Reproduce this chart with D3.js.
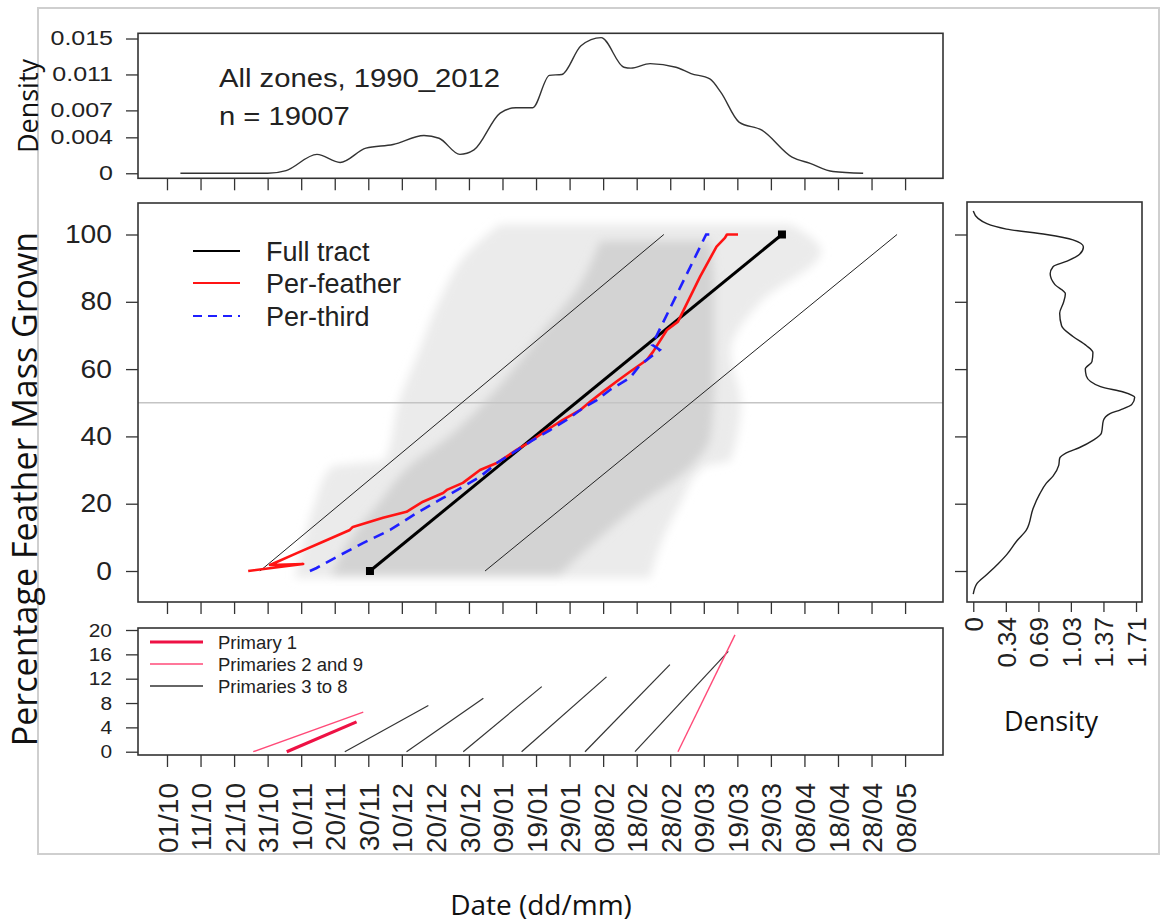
<!DOCTYPE html>
<html>
<head>
<meta charset="utf-8">
<title>Percentage feather mass grown</title>
<script src="https://cdn.jsdelivr.net/npm/d3@7"></script>
<style>
	body { margin: 0; background: #fff; }
	svg { display: block; background: #fff; }
	.axis line { stroke: #333; stroke-width: 1.3; }
	.box { fill: none; stroke: #333; stroke-width: 1.6; }
	.tick-label { font-family: "Liberation Sans", Arial, sans-serif; fill: #222; }
	.title { font-family: "Open Sans", "Noto Sans", sans-serif; fill: #111; }
</style>
</head>
<body>
<div id="fig-moult"><svg width="1161" height="924"></svg></div>
<script>

// ---------------- values ----------------

// x axis: days since 01/10, one tick every 10 days
const tick_days = [0, 10, 20, 30, 40, 50, 60, 70, 80, 90, 100, 110, 120, 130, 140, 150, 160, 170, 180, 190, 200, 210, 220];
const tick_dates = ["01/10", "11/10", "21/10", "31/10", "10/11", "20/11", "30/11", "10/12", "20/12", "30/12",
	"09/01", "19/01", "29/01", "08/02", "18/02", "28/02", "09/03", "19/03", "29/03", "08/04", "18/04", "28/04", "08/05"];

// top panel: density of sampling dates
const timing_ticks = [0, 0.004, 0.007, 0.011, 0.015];
const timing_tick_labels = ["0", "0.004", "0.007", "0.011", "0.015"];
const timing_days = [4, 30, 35.5, 44.7, 51.6, 59.3, 67.4, 76.6, 81.1, 87.3, 91.5, 99.3, 104, 109, 114, 117.7,
	123.4, 129.4, 136.2, 138.3, 144, 151.7, 156.2, 161.8, 165.1, 170.5, 177.3, 186.3, 191.7, 198.5, 207.5];
const timing_density = [0, 0, 0.0003, 0.0021, 0.0012, 0.0028, 0.0032, 0.0042, 0.0039, 0.0021, 0.0026, 0.0067,
	0.0073, 0.0073, 0.0109, 0.011, 0.0142, 0.0151, 0.0118, 0.0117, 0.0122, 0.0118, 0.0111, 0.0105, 0.009,
	0.0057, 0.0048, 0.0018, 0.0011, 0.0002, 0];

// main panel
const mass_ticks = [0, 20, 40, 60, 80, 100];

// grey cloud of the 19007 scored birds, as horizontal bands (pct -> first/last day)
const cloud_pct = [-2, 10, 20, 31, 33, 50, 65, 80, 95, 103];
const cloud_first_day = [38, 41, 44, 49, 65, 69, 75, 81, 90, 99];
const cloud_last_day = [144, 148, 153, 160, 168, 171, 168, 177, 195, 186];
const core_pct = [-1, 10, 20, 31, 40, 55, 70, 85, 98];
const core_first_day = [49, 55, 63, 72, 84, 99, 111, 123, 129];
const core_last_day = [117, 129, 141, 156, 162, 163, 163, 163, 162];

const full_tract_days = [60.5, 183.3];
const full_tract_pct = [0, 100];
const envelope_early_days = [27.7, 148.1];
const envelope_late_days = [94.8, 217.6];
const envelope_pct = [0, 100];

const per_feather_days = [24.2, 40.6, 30.7, 38.7, 46.5, 54.5, 55.4, 64.4, 71.4, 76.3, 82.3, 83.4, 88.2, 93.3,
	98.3, 104.2, 108.2, 113.2, 118, 123.1, 126.1, 130, 134, 138, 143, 144.9, 149, 152.3, 158.9, 163.8, 166.3,
	166.9, 170.2];
const per_feather_pct = [0, 2.1, 1.8, 5.3, 8.7, 12.2, 13.1, 15.8, 17.6, 20.6, 23.2, 24.1, 26.2, 30, 32.1, 36,
	38.4, 41.9, 44.9, 47.8, 50.3, 53.3, 56.3, 59.2, 62.7, 65.2, 71.6, 74.1, 87.5, 96.4, 99, 100, 100];

const per_third_days = [42.6, 44.6, 50.6, 58.4, 66.5, 74.4, 82.3, 88.2, 93.3, 98.3, 103.1, 108.2, 114.2, 119.1,
	124, 128.1, 132, 138, 141, 146.9, 144.6, 160.7, 163.1];
const per_third_pct = [0, 0.9, 4.2, 8.3, 12.2, 17.2, 21.7, 25, 28, 32.1, 35.1, 38.4, 41.9, 44.9, 48.4, 50.8,
	53.8, 57.4, 61.2, 65.7, 67.2, 100, 100];

const method_names = ["Full tract", "Per-feather", "Per-third"];

// right panel: density of percentage grown
const grown_pct = [107, 104.8, 101.6, 100, 98.4, 96.3, 94.1, 92, 90.4, 88.3, 85.1, 82.4, 79.8, 76.6, 72.9, 69.7,
	67, 64.9, 62.2, 60.1, 58, 54.8, 53.2, 51.6, 49.5, 47.9, 46.8, 44.7, 41, 38.8, 36.7, 35.1, 33.5, 31.4, 28.2,
	26.1, 22.9, 18.6, 12.2, 9, 4.8, 2.1, -1.1, -3.7, -6.9];
const grown_density = [0, 0.05, 0.35, 0.77, 1.05, 1.16, 1.12, 0.98, 0.84, 0.81, 0.86, 0.97, 0.95, 0.91, 0.93,
	1.05, 1.19, 1.26, 1.25, 1.18, 1.19, 1.34, 1.58, 1.70, 1.67, 1.55, 1.44, 1.37, 1.35, 1.26, 1.12, 0.98, 0.91,
	0.90, 0.84, 0.77, 0.70, 0.63, 0.56, 0.46, 0.35, 0.26, 0.14, 0.04, 0];
const grown_ticks = [0, 0.343, 0.686, 1.028, 1.371, 1.714];
const grown_tick_labels = ["0", "0.34", "0.69", "1.03", "1.37", "1.71"];

// bottom panel: growth of single primaries (mass, % of tract)
const feather_group = ["Primaries 2 and 9", "Primary 1", "Primaries 3 to 8", "Primaries 3 to 8", "Primaries 3 to 8",
	"Primaries 3 to 8", "Primaries 3 to 8", "Primaries 3 to 8", "Primaries 2 and 9"];
const feather_start_day = [25.7, 35.7, 53, 71.4, 88.3, 105.7, 124.6, 139.5, 152.3];
const feather_end_day = [58.5, 56.5, 77.9, 94.3, 111.7, 131, 149.9, 167.3, 169.3];
const feather_end_mass = [6.5, 4.9, 7.6, 8.8, 10.7, 12.3, 14.3, 16.5, 19.2];
const feather_ticks = [0, 4, 8, 12, 16, 20];
const feather_groups = ["Primary 1", "Primaries 2 and 9", "Primaries 3 to 8"];

// ------------------------------------------------------------

function whenDocumentLoaded(action) {
	if (document.readyState === "loading") {
		document.addEventListener("DOMContentLoaded", action);
	} else {
		action();
	}
}

// the original figure was exported a little wider than tall, so the
// horizontal text looks stretched. scale around the text's own anchor
function widen(selection, sx) {
	selection.each(function() {
		const t = d3.select(this);
		const x = +t.attr("x") || 0;
		t.attr("x", x / sx).attr("transform", "scale(" + sx + ",1)");
	});
}

class MoultFigure {

	constructor(figure_element_id) {
		this.svg = d3.select('#' + figure_element_id + ' svg');
		this.defs = this.svg.append('defs');

		// shared date scale (days since 01/10)
		this.x = d3.scaleLinear().domain([-8.64, 231.3]).range([138, 943]);
		// percentage grown, used by the main panel and the side density
		this.y_mass = d3.scaleLinear().domain([-9.21, 109.36]).range([602, 203]);

		this.drawFrame();
		this.drawTimingPanel();
		this.drawMainPanel();
		this.drawFeatherPanel();
		this.drawGrownDensityPanel();
		this.drawTitles();
	}

	drawFrame() {
		this.svg.append("rect")
			.attr("x", 38).attr("y", 8)
			.attr("width", 1121).attr("height", 846)
			.attr("fill", "none")
			.attr("stroke", "#cfcfcf")
			.attr("stroke-width", 2);
	}

	box(x0, y0, x1, y1) {
		this.svg.append("rect")
			.attr("class", "box")
			.attr("x", x0).attr("y", y0)
			.attr("width", x1 - x0).attr("height", y1 - y0);
	}

	// ticks under a panel, labels only for the lowest one
	dateTicks(y, with_labels) {
		const axis = d3.axisBottom(this.x)
			.tickValues(tick_days)
			.tickSize(12)
			.tickFormat(d => with_labels ? tick_dates[tick_days.indexOf(d)] : "");
		const g = this.svg.append("g")
			.attr("class", "axis")
			.attr("transform", "translate(0," + y + ")")
			.call(axis);
		g.select(".domain").remove();
		if (with_labels) {
			g.selectAll("text")
				.attr("class", "tick-label")
				.attr("font-size", 28)
				.attr("fill", "#222")
				.attr("transform", "rotate(-90)")
				.attr("text-anchor", "end")
				.attr("x", -28)
				.attr("y", 0)
				.attr("dy", "0.36em");
		}
	}

	leftTicks(scale, values, labels, x, size, pad, font_size, sx) {
		const axis = d3.axisLeft(scale)
			.tickValues(values)
			.tickSize(size)
			.tickPadding(pad)
			.tickFormat(d => labels ? labels[values.indexOf(d)] : "");
		const g = this.svg.append("g")
			.attr("class", "axis")
			.attr("transform", "translate(" + x + ",0)")
			.call(axis);
		g.select(".domain").remove();
		g.selectAll("text")
			.attr("class", "tick-label")
			.attr("font-size", font_size)
			.attr("fill", "#222");
		if (sx) widen(g.selectAll("text"), sx);
		return g;
	}

	drawTimingPanel() {
		const y = d3.scaleLinear().domain([-0.00056, 0.01558]).range([178.3, 33.3]);

		const line = d3.line()
			.x((d, i) => this.x(timing_days[i]))
			.y(d => y(d))
			.curve(d3.curveMonotoneX);

		this.svg.append("path")
			.attr("d", line(timing_density))
			.attr("fill", "none")
			.attr("stroke", "#333")
			.attr("stroke-width", 1.4);

		this.leftTicks(y, timing_ticks, timing_tick_labels, 138, 12, 13, 20, 1.25);
		this.dateTicks(178.3, false);
		this.box(138, 33.3, 943, 178.3);

		const note = this.svg.append("g").attr("class", "tick-label").attr("font-size", 25).attr("fill", "#111");
		note.append("text").attr("x", 219).attr("y", 87).text("All zones, 1990_2012");
		note.append("text").attr("x", 219).attr("y", 125).text("n = 19007");
		widen(note.selectAll("text"), 1.17);
	}

	drawMainPanel() {
		const x = this.x, y = this.y_mass;

		this.defs.append("clipPath").attr("id", "clip-main")
			.append("rect").attr("x", 138).attr("y", 203).attr("width", 805).attr("height", 399);
		this.defs.append("filter").attr("id", "soft")
			.attr("x", "-10%").attr("y", "-10%").attr("width", "120%").attr("height", "120%")
			.append("feGaussianBlur").attr("stdDeviation", 5);

		const plot = this.svg.append("g").attr("clip-path", "url(#clip-main)");

		// grey cloud of individual birds
		const band = (first, last) => d3.area()
			.y(d => y(d))
			.x0((d, i) => x(first[i]))
			.x1((d, i) => x(last[i]))
			.curve(d3.curveMonotoneY);

		plot.append("path")
			.attr("d", band(cloud_first_day, cloud_last_day)(cloud_pct))
			.attr("fill", "#ebebeb")
			.attr("filter", "url(#soft)");
		plot.append("path")
			.attr("d", band(core_first_day, core_last_day)(core_pct))
			.attr("fill", "#d3d3d3")
			.attr("filter", "url(#soft)");

		// 50% line
		plot.append("line")
			.attr("x1", 138).attr("x2", 943)
			.attr("y1", y(50)).attr("y2", y(50))
			.attr("stroke", "#c4c4c4")
			.attr("stroke-width", 1.6);

		const path_of = (days, pct) => d3.line()
			.x((d, i) => x(days[i]))
			.y(d => y(d))(pct);

		// early / late envelopes
		[envelope_early_days, envelope_late_days].forEach(days => {
			plot.append("path")
				.attr("d", path_of(days, envelope_pct))
				.attr("fill", "none")
				.attr("stroke", "#222")
				.attr("stroke-width", 1);
		});

		plot.append("path")
			.attr("d", path_of(full_tract_days, full_tract_pct))
			.attr("fill", "none")
			.attr("stroke", "#000")
			.attr("stroke-width", 3);
		plot.selectAll(".tract-end")
			.data(full_tract_pct)
			.join("rect")
			.attr("class", "tract-end")
			.attr("x", (d, i) => x(full_tract_days[i]) - 4)
			.attr("y", d => y(d) - 4)
			.attr("width", 8).attr("height", 8)
			.attr("fill", "#000");

		plot.append("path")
			.attr("d", path_of(per_feather_days, per_feather_pct))
			.attr("fill", "none")
			.attr("stroke", "#ff1414")
			.attr("stroke-width", 2.6)
			.attr("stroke-linejoin", "round");

		plot.append("path")
			.attr("d", path_of(per_third_days, per_third_pct))
			.attr("fill", "none")
			.attr("stroke", "#1f1fff")
			.attr("stroke-width", 2.6)
			.attr("stroke-dasharray", "11,7");

		// legend
		const legend_styles = [
			{stroke: "#000", width: 2.2, dash: null},
			{stroke: "#ff1414", width: 2.2, dash: null},
			{stroke: "#1f1fff", width: 2.2, dash: "9,6"},
		];
		const legend = this.svg.append("g");
		const rows = legend.selectAll("g")
			.data(method_names)
			.join("g")
			.attr("transform", (d, i) => "translate(0," + [251, 283, 316][i] + ")");
		rows.append("line")
			.attr("x1", 193).attr("x2", 240)
			.attr("stroke", (d, i) => legend_styles[i].stroke)
			.attr("stroke-width", (d, i) => legend_styles[i].width)
			.attr("stroke-dasharray", (d, i) => legend_styles[i].dash);
		rows.append("text")
			.attr("class", "tick-label")
			.attr("x", 266)
			.attr("dy", "0.36em")
			.attr("font-size", 27)
			.attr("fill", "#111")
			.text(d => d);

		this.leftTicks(y, mass_ticks, mass_ticks.map(String), 138, 12, 14, 25, 1.13);
		this.dateTicks(602, false);
		this.box(138, 203, 943, 602);
	}

	drawFeatherPanel() {
		const x = this.x;
		const y = d3.scaleLinear().domain([-0.54, 20.33]).range([755, 628]);

		const style = {
			"Primary 1": {stroke: "#ee1144", width: 3.2},
			"Primaries 2 and 9": {stroke: "#ff4a78", width: 1.4},
			"Primaries 3 to 8": {stroke: "#333", width: 1.2},
		};

		this.svg.append("g")
			.selectAll("line")
			.data(feather_group)
			.join("line")
			.attr("x1", (d, i) => x(feather_start_day[i]))
			.attr("y1", y(0))
			.attr("x2", (d, i) => x(feather_end_day[i]))
			.attr("y2", (d, i) => y(feather_end_mass[i]))
			.attr("stroke", d => style[d].stroke)
			.attr("stroke-width", d => style[d].width);

		const legend = this.svg.append("g")
			.selectAll("g")
			.data(feather_groups)
			.join("g")
			.attr("transform", (d, i) => "translate(0," + [642, 664, 686][i] + ")");
		legend.append("line")
			.attr("x1", 150).attr("x2", 203)
			.attr("stroke", d => style[d].stroke)
			.attr("stroke-width", d => d === "Primary 1" ? 3 : 1.6);
		legend.append("text")
			.attr("class", "tick-label")
			.attr("x", 218)
			.attr("dy", "0.36em")
			.attr("font-size", 18.5)
			.attr("fill", "#444")
			.text(d => d);

		this.leftTicks(y, feather_ticks, feather_ticks.map(String), 138, 12, 14, 19, 1.1);
		this.dateTicks(755, true);
		this.box(138, 628, 943, 755);
	}

	drawGrownDensityPanel() {
		const x = d3.scaleLinear().domain([-0.066, 1.777]).range([967, 1142]);
		const y = this.y_mass;

		const line = d3.line()
			.x((d, i) => x(grown_density[i]))
			.y(d => y(d))
			.curve(d3.curveMonotoneY);

		this.svg.append("path")
			.attr("d", line(grown_pct))
			.attr("fill", "none")
			.attr("stroke", "#222")
			.attr("stroke-width", 1.4);

		this.leftTicks(y, mass_ticks, null, 967, 12, 3, 10);

		const axis = d3.axisBottom(x)
			.tickValues(grown_ticks)
			.tickSize(10)
			.tickFormat(d => grown_tick_labels[grown_ticks.indexOf(d)]);
		const g = this.svg.append("g")
			.attr("class", "axis")
			.attr("transform", "translate(0,602)")
			.call(axis);
		g.select(".domain").remove();
		g.selectAll("text")
			.attr("class", "tick-label")
			.attr("font-size", 26)
			.attr("fill", "#222")
			.attr("transform", "rotate(-90)")
			.attr("text-anchor", "end")
			.attr("x", -15)
			.attr("y", 0)
			.attr("dy", "0.36em");

		this.box(967, 202, 1142, 602);
	}

	drawTitles() {
		const t = this.svg.append("g").attr("class", "title").attr("font-size", 27).attr("text-anchor", "middle");
		t.append("text")
			.attr("transform", "translate(37,489) rotate(-90)")
			.attr("font-size", 34)
			.text("Percentage Feather Mass Grown");
		t.append("text")
			.attr("transform", "translate(38,106) rotate(-90)")
			.text("Density");
		t.append("text")
			.attr("x", 1051).attr("y", 731)
			.text("Density");
		t.append("text")
			.attr("x", 541).attr("y", 915)
			.attr("font-size", 28)
			.text("Date (dd/mm)");
	}
}

whenDocumentLoaded(() => {
	plot_object = new MoultFigure('fig-moult');
});
</script>
</body>
</html>
